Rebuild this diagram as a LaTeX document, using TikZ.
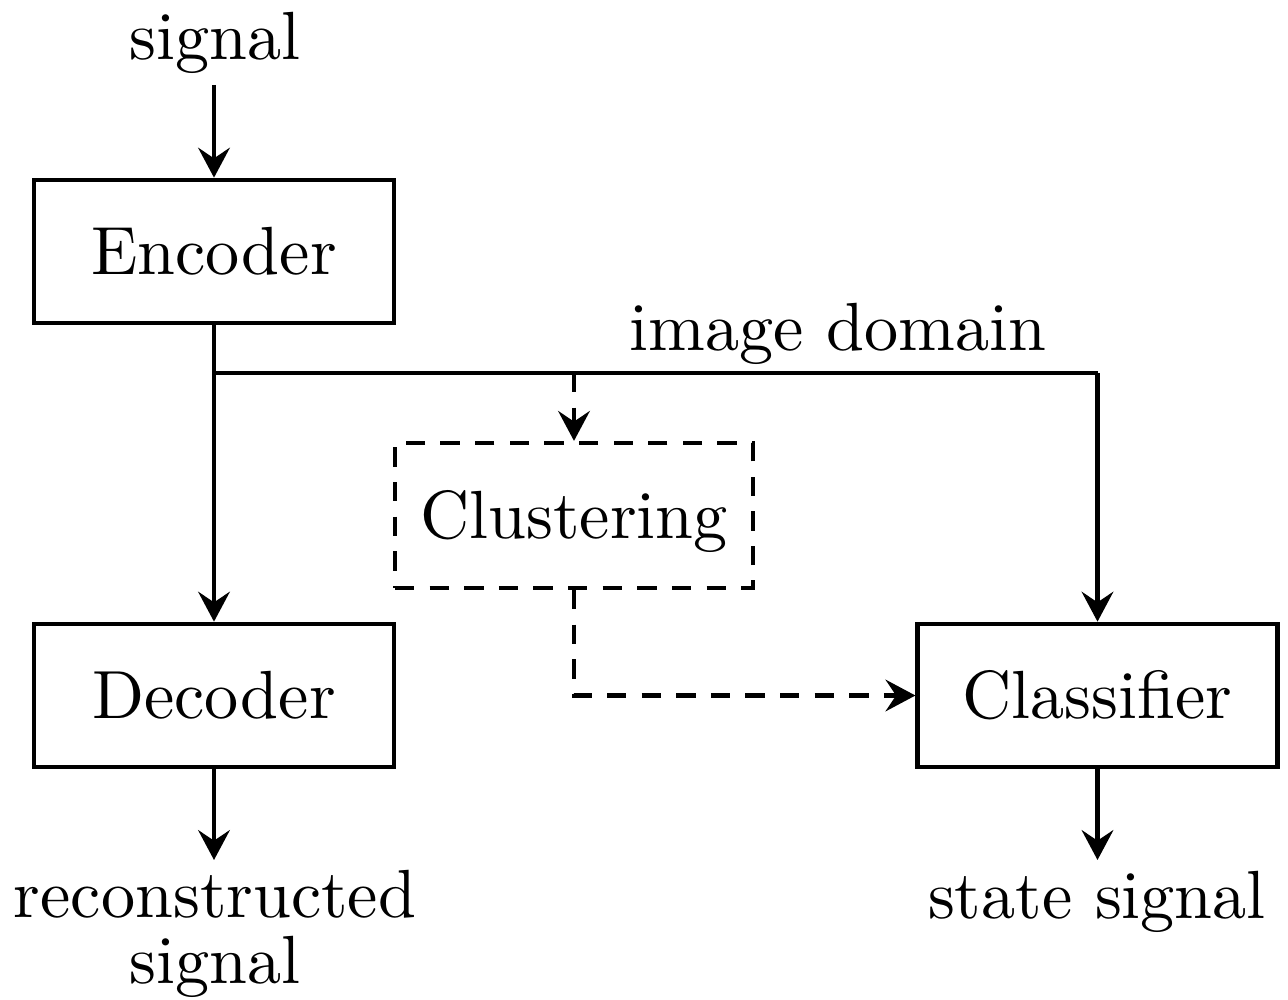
\documentclass[tikz,border=0pt]{standalone}
\usepackage{fontspec}
\setmainfont{lmroman10-regular}[Extension=.otf]
\usetikzlibrary{arrows.meta}
\begin{document}
\begin{tikzpicture}[x=0.02cm,y=-0.02cm,
  every node/.style={font=\fontsize{38.8}{37.4}\selectfont},
  blk/.style={draw, line width=2.4pt, minimum width=7.2cm, minimum height=2.87cm, inner sep=0pt, text height=26.5pt, text depth=0pt},
  conn/.style={line width=2.4pt, -{Stealth[length=17pt,width=18pt,inset=6pt]}},
  plain/.style={line width=2.4pt},
  dsh/.style={dash pattern=on 11pt off 8.7pt}]
\useasboundingbox (0,0) rectangle (1288,1000);
% boxes
\node[blk] (enc) at (214,251.5) {Encoder};
\node[blk] (dec) at (214,695.5) {Decoder};
\node[blk] (cls) at (1097.5,695.5) {Classifier};
\node[blk, dsh, minimum width=7.16cm, minimum height=2.9cm] (clu) at (574,515.5) {Clustering};
% labels
\node[anchor=base, inner sep=0pt] (sig) at (215,60) {signal};
\node[anchor=base, inner sep=0pt] (img) at (838,350) {image domain};
\node[anchor=north, inner sep=0pt, align=center] (rec) at (215,870) {reconstructed\\signal};
\node[anchor=base, inner sep=0pt] (st) at (1097,918) {state signal};
% coordinates
\coordinate (sigb) at (enc.north |- 0,85);
\coordinate (j) at (enc.south |- 0,373);
\coordinate (jr) at (cls.north |- j);
\coordinate (jc) at (clu.north |- j);
\coordinate (decout) at (dec.south |- 0,860);
\coordinate (clsout) at (cls.south |- 0,860);
% connectors
\draw[conn] (sigb) -- (enc.north);
\draw[conn] (enc.south) -- (dec.north);
\draw[plain] (j) -- (jr);
\draw[conn] (jr) -- (cls.north);
\draw[conn, dsh] (jc) -- (clu.north);
\draw[conn, dsh] (clu.south) |- (cls.west);
\draw[conn] (dec.south) -- (decout);
\draw[conn] (cls.south) -- (clsout);
\end{tikzpicture}
\end{document}
